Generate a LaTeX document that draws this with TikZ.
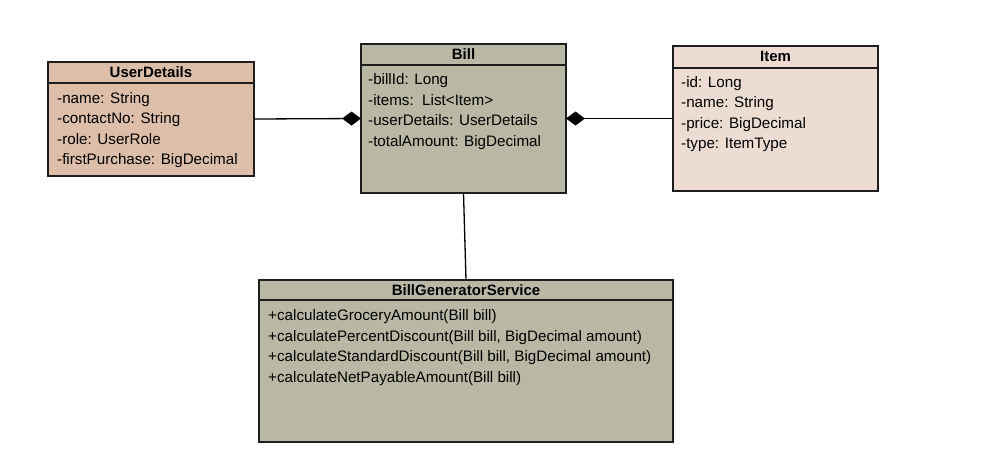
\documentclass[tikz,border=0pt]{standalone}
\usepackage{fontspec}
\setmainfont{Liberation Sans}
\usetikzlibrary{arrows.meta}
\definecolor{udfill}{RGB}{221,190,168}
\definecolor{billfill}{RGB}{185,184,164}
\definecolor{itemfill}{RGB}{237,220,210}
\definecolor{edge}{RGB}{30,30,30}
\tikzset{
  classbox/.style={draw=edge, line width=1.4pt, inner sep=0pt, outer sep=0pt, anchor=north west},
  title/.style={font=\fontsize{15}{17}\selectfont\bfseries, anchor=base, inner sep=0pt},
  member/.style={font=\fontsize{15.2}{17}\selectfont, anchor=base west, inner sep=0pt},
  conn/.style={draw=black, line width=1.3pt},
  compo/.style={conn, {Diamond[length=19pt,width=14pt]}-}
}
\begin{document}
\begin{tikzpicture}[x=1pt,y=-1pt]
\useasboundingbox (0,0) rectangle (988,466);
% UserDetails
\node[classbox, fill=udfill, minimum width=206pt, minimum height=114pt] (ud) at (48,62) {};
\draw[draw=edge, line width=1.4pt] (48,83) -- (254,83);
\node[title] (udt) at (151,77.5) {UserDetails};
\node[member] (ud1) at (57,103) {-name: String};
\node[member] (ud2) at (57,123.5) {-contactNo: String};
\node[member] (ud3) at (57,144) {-role: UserRole};
\node[member] (ud4) at (57,164.5) {-firstPurchase: BigDecimal};
% Bill
\node[classbox, fill=billfill, minimum width=205pt, minimum height=149pt] (bill) at (361,44) {};
\draw[draw=edge, line width=1.4pt] (361,65) -- (566,65);
\node[title] (billt) at (463.5,59.5) {Bill};
\node[member] (b1) at (368,84.5) {-billId: Long};
\node[member] (b2) at (368,105) {-items:\ \ List<Item>};
\node[member] (b3) at (368,125.5) {-userDetails: UserDetails};
\node[member] (b4) at (368,146) {-totalAmount: BigDecimal};
% Item
\node[classbox, fill=itemfill, minimum width=205pt, minimum height=145pt] (item) at (673,46) {};
\draw[draw=edge, line width=1.4pt] (673,68) -- (878,68);
\node[title] (itemt) at (775.5,61.5) {Item};
\node[member] (i1) at (681,87) {-id: Long};
\node[member] (i2) at (681,107.5) {-name: String};
\node[member] (i3) at (681,128) {-price: BigDecimal};
\node[member] (i4) at (681,148.5) {-type: ItemType};
% BillGeneratorService
\node[classbox, fill=billfill, minimum width=414pt, minimum height=162pt] (bgs) at (259,280) {};
\draw[draw=edge, line width=1.4pt] (259,300) -- (673,300);
\node[title] (bgst) at (466,295.5) {BillGeneratorService};
\node[member] (s1) at (268,320.5) {+calculateGroceryAmount(Bill bill)};
\node[member] (s2) at (268,341) {+calculatePercentDiscount(Bill bill, BigDecimal amount)};
\node[member] (s3) at (268,361.5) {+calculateStandardDiscount(Bill bill, BigDecimal amount)};
\node[member] (s4) at (268,382) {+calculateNetPayableAmount(Bill bill)};
% connectors
\draw[compo] (bill.west) -- (ud.east);
\draw[compo] (bill.east) -- (item.west);
\draw[conn] (bill.south) -- (bgs.north);
\end{tikzpicture}
\end{document}
